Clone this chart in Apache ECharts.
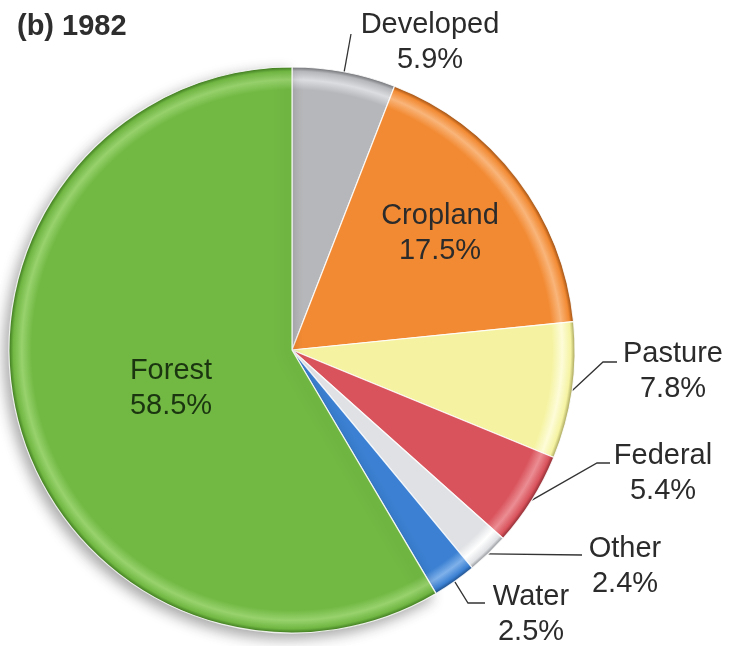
<!DOCTYPE html>
<html>
<head>
<meta charset="utf-8">
<script src="https://cdn.jsdelivr.net/npm/echarts@6/dist/echarts.min.js"></script>
<style>
  html, body { margin: 0; padding: 0; background: #ffffff; }
  #chart { width: 735px; height: 646px; }
</style>
</head>
<body>
<div id="chart"></div>
<script>
// Land use shares, 1982 (percent), clockwise from 12 o'clock
const categories = ['Developed', 'Cropland', 'Pasture', 'Federal', 'Other', 'Water', 'Forest'];
const shares = [5.9, 17.5, 7.8, 5.4, 2.4, 2.5, 58.5];
const titleText = '(b) 1982';

// Slice fills: [base, light rim, dark edge]
const palette = {
  Developed: ['#b6b7ba', '#dcdde0', '#6f7074'],
  Cropland:  ['#f28a33', '#f9b57a', '#9b4e12'],
  Pasture:   ['#f5f3a2', '#fdfcd8', '#a4a15a'],
  Federal:   ['#d9535c', '#eb8d93', '#8a2a31'],
  Other:     ['#dfe1e4', '#ffffff', '#8c8f94'],
  Water:     ['#3b80d2', '#7fb1ea', '#1f4d86'],
  Forest:    ['#72b944', '#98d26d', '#3f7a1f']
};

// Label block centres and leader line bends
const labelSpots = {
  Developed: { x: 430, y: 42, line: [[351, 34]] },
  Cropland:  { x: 440, y: 233 },
  Pasture:   { x: 673, y: 371, line: [[603, 362], [617, 362]] },
  Federal:   { x: 663, y: 473, line: [[597, 463], [610, 463]] },
  Other:     { x: 625, y: 566, line: [[582, 555]] },
  Water:     { x: 531, y: 614, line: [[468, 603], [485, 603]] },
  Forest:    { x: 171, y: 388 }
};

const CX = 292, CY = 350, R = 283;

function sliceStyle(name) {
  const c = palette[name];
  const style = {
    color: {
      type: 'radial', x: CX, y: CY, r: R, global: true,
      colorStops: [
        { offset: 0, color: c[0] },
        { offset: 0.92, color: c[0] },
        { offset: 0.955, color: c[1] },
        { offset: 0.985, color: c[0] },
        { offset: 1, color: c[2] }
      ]
    },
    borderColor: 'rgba(255,255,255,0.85)',
    borderWidth: 1.2
  };
  if (name === 'Forest') {
    style.shadowBlur = 14;
    style.shadowColor = 'rgba(0,0,0,0.35)';
    style.shadowOffsetX = -4;
    style.shadowOffsetY = 5;
  }
  return style;
}

const pieData = categories.map((name, i) => ({
  name: name,
  value: shares[i],
  itemStyle: sliceStyle(name),
  label: {
    color: name === 'Forest' ? '#1a3510' : '#2b2b2b'
  },
  labelLine: { show: !!labelSpots[name].line }
}));

const chart = echarts.init(document.getElementById('chart'), null, { renderer: 'canvas' });

chart.setOption({
  backgroundColor: '#ffffff',
  animation: false,
  title: {
    text: titleText,
    left: 12,
    top: 7,
    textStyle: {
      fontFamily: 'Liberation Sans, Arial, sans-serif',
      fontSize: 29,
      fontWeight: 'bold',
      color: '#2e2e2e'
    }
  },
  series: [{
    type: 'pie',
    center: [CX, CY],
    radius: [0, R],
    startAngle: 90,
    clockwise: true,
    avoidLabelOverlap: false,
    data: pieData,
    label: {
      show: true,
      position: 'outside',
      fontFamily: 'Liberation Sans, Arial, sans-serif',
      fontSize: 29,
      lineHeight: 35,
      align: 'center',
      formatter: p => p.name + '\n' + p.value.toFixed(1) + '%'
    },
    labelLine: {
      show: true,
      lineStyle: { color: '#333333', width: 1.3 }
    },
    emphasis: { disabled: true },
    labelLayout: function (params) {
      const name = categories[params.dataIndex];
      const spot = labelSpots[name];
      const out = {
        x: spot.x,
        y: spot.y,
        align: 'center',
        verticalAlign: 'middle'
      };
      if (spot.line && params.labelLinePoints) {
        out.labelLinePoints = [params.labelLinePoints[0]].concat(spot.line);
        while (out.labelLinePoints.length < 3) {
          out.labelLinePoints.push(spot.line[spot.line.length - 1]);
        }
      }
      return out;
    }
  }]
});
</script>
</body>
</html>
